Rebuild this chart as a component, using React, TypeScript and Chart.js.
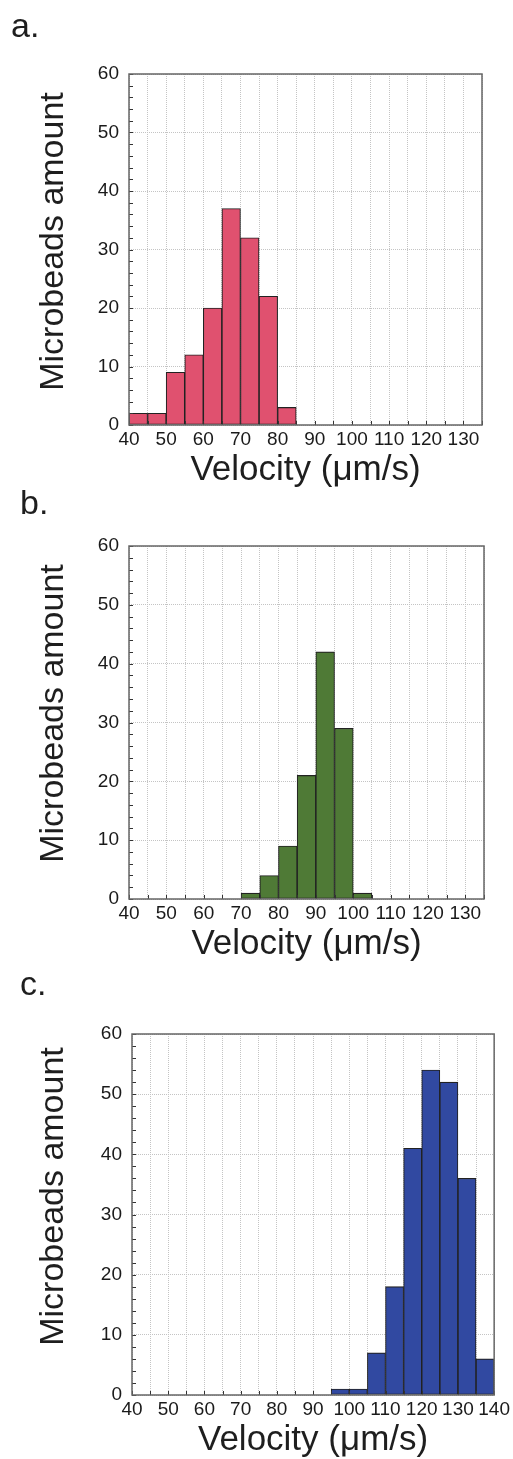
import React, { useEffect, useRef } from 'react';
import { Chart, registerables } from 'chart.js';

Chart.register(...registerables);

// ---- data ----
const binWidth = 5;
const binStartsA = [40, 45, 50, 55, 60, 65, 70, 75, 80];
const countsA = [2, 2, 9, 12, 20, 37, 32, 22, 3];
const binStartsB = [70, 75, 80, 85, 90, 95, 100];
const countsB = [1, 4, 9, 21, 42, 29, 1];
const binStartsC = [95, 100, 105, 110, 115, 120, 125, 130, 135];
const countsC = [1, 1, 7, 18, 41, 54, 52, 36, 6];
const xMinAll = 40;
const xMaxAB = 135;
const xMaxC = 140;
const yMin = 0;
const yMax = 60;
const yStep = 10;
const yMinorStep = 2;
const xLabelStep = 10;
const panelLetters = ['a.', 'b.', 'c.'];
const yTitle = 'Microbeads amount';
const xTitle = 'Velocity (\u03bcm/s)';

const FONT = "'Liberation Sans', Arial, Helvetica, sans-serif";

const framePlugin = {
  id: 'frameTicks',
  afterDatasetsDraw(chart: any) {
    const { ctx, chartArea: a, scales } = chart;
    const x = scales.x;
    const y = scales.y;
    ctx.save();
    ctx.beginPath();
    ctx.strokeStyle = '#333';
    ctx.lineWidth = 1;
    for (let v = y.min; v <= y.max + 1e-9; v += yMinorStep) {
      const py = Math.round(y.getPixelForValue(v)) + 0.5;
      ctx.moveTo(a.left, py);
      ctx.lineTo(a.left + 4, py);
    }
    for (let v = x.min; v <= x.max + 1e-9; v += binWidth) {
      const px = Math.round(x.getPixelForValue(v)) + 0.5;
      ctx.moveTo(px, a.bottom);
      ctx.lineTo(px, a.bottom - 4);
    }
    ctx.stroke();
    ctx.strokeStyle = '#666';
    ctx.lineWidth = 1.5;
    ctx.strokeRect(a.left, a.top, a.right - a.left, a.bottom - a.top);
    ctx.restore();
  },
  afterDraw(chart: any) {
    const opts = chart.options.plugins.yTitleText || {};
    const { ctx, chartArea: a } = chart;
    ctx.save();
    ctx.translate(opts.x ?? 54, (a.top + a.bottom) / 2 - (opts.shift ?? 0));
    ctx.rotate(-Math.PI / 2);
    ctx.textAlign = 'center';
    ctx.textBaseline = 'middle';
    ctx.fillStyle = '#1e1e1e';
    ctx.font = `34px ${FONT}`;
    ctx.fillText(yTitle, 0, 0);
    ctx.restore();
  },
};

type PanelProps = {
  top: number;
  height: number;
  plotLeft: number;
  padTop: number;
  padRight: number;
  starts: number[];
  counts: number[];
  xMax: number;
  color: string;
  titleShift: number;
};

function Panel(p: PanelProps) {
  const ref = useRef<HTMLCanvasElement | null>(null);
  useEffect(() => {
    if (!ref.current) return;
    const data = p.starts.map((s, i) => ({ x: s + binWidth / 2, y: p.counts[i] }));
    const chart = new Chart(ref.current, {
      type: 'bar',
      data: {
        datasets: [
          {
            data,
            backgroundColor: p.color,
            borderColor: '#222',
            borderWidth: 1.1,
            borderSkipped: false,
            barPercentage: 1,
            categoryPercentage: 1,
            grouped: false,
          } as any,
        ],
      },
      options: {
        animation: false,
        responsive: false,
        maintainAspectRatio: false,
        layout: { padding: { top: p.padTop, right: p.padRight, left: 0, bottom: 0 } },
        plugins: {
          legend: { display: false },
          tooltip: { enabled: false },
          yTitleText: { x: 54, shift: p.titleShift },
        },
        scales: {
          x: {
            type: 'linear',
            min: xMinAll,
            max: p.xMax,
            offset: false,
            grid: { color: '#c4c4c4', lineWidth: 1, drawTicks: false, offset: false },
            border: { display: false, dash: [1, 1] },
            ticks: {
              stepSize: binWidth,
              autoSkip: false,
              maxRotation: 0,
              padding: 3,
              color: '#1a1a1a',
              font: { family: FONT, size: 19 },
              callback: (v: any) => (Number(v) % xLabelStep === 0 ? String(v) : ''),
            },
            title: {
              display: true,
              text: xTitle,
              color: '#1e1e1e',
              font: { family: FONT, size: 35 },
              padding: { top: 0, bottom: 19 },
            },
            afterFit: (s: any) => {
              s.height = 85;
            },
          },
          y: {
            type: 'linear',
            min: yMin,
            max: yMax,
            grid: { color: '#c4c4c4', lineWidth: 1, drawTicks: false },
            border: { display: false, dash: [1, 1] },
            ticks: {
              stepSize: yStep,
              padding: 10,
              color: '#1a1a1a',
              font: { family: FONT, size: 19 },
            },
            title: { display: false },
            afterFit: (s: any) => {
              s.width = p.plotLeft;
            },
          },
        },
      } as any,
      plugins: [framePlugin],
    });
    return () => chart.destroy();
  }, []);
  return (
    <canvas
      ref={ref}
      width={513}
      height={p.height}
      style={{ position: 'absolute', left: 0, top: p.top, width: 513, height: p.height, display: 'block' }}
    />
  );
}

const letterStyle = (left: number, top: number): React.CSSProperties => ({
  position: 'absolute',
  left,
  top,
  fontFamily: FONT,
  fontSize: 34,
  lineHeight: '34px',
  color: '#1e1e1e',
});

export default function App() {
  return (
    <div
      style={{
        position: 'absolute',
        left: 0,
        top: 0,
        width: 513,
        height: 1459,
        overflow: 'hidden',
        background: '#fff',
      }}
    >
      <Panel top={40} height={470} plotLeft={129} padTop={34} padRight={31} starts={binStartsA} counts={countsA} xMax={xMaxAB} color="#e0516f" titleShift={8} />
      <Panel top={510} height={474} plotLeft={129} padTop={36} padRight={29} starts={binStartsB} counts={countsB} xMax={xMaxAB} color="#4f7a36" titleShift={9} />
      <Panel top={1000} height={480} plotLeft={132} padTop={34} padRight={18} starts={binStartsC} counts={countsC} xMax={xMaxC} color="#3149a1" titleShift={18} />
      <div style={letterStyle(11, 8)}>{panelLetters[0]}</div>
      <div style={letterStyle(20, 485)}>{panelLetters[1]}</div>
      <div style={letterStyle(20, 966)}>{panelLetters[2]}</div>
    </div>
  );
}
